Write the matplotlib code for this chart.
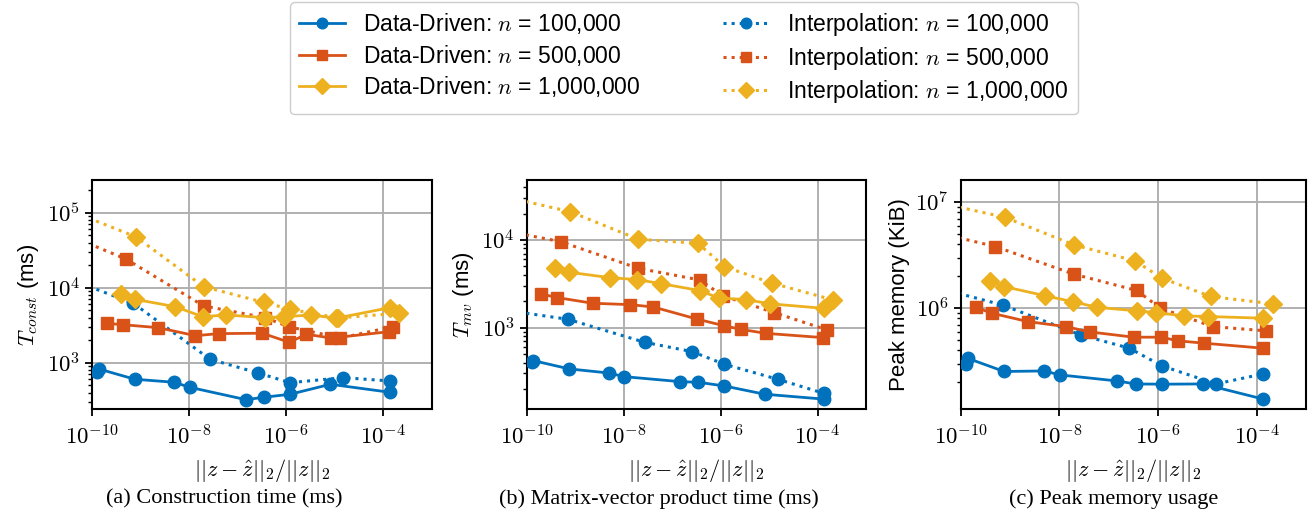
import numpy as np
import matplotlib
matplotlib.use('Agg')
import matplotlib.pyplot as plt
from matplotlib.ticker import FuncFormatter, FixedLocator, NullLocator, NullFormatter, LogLocator

plt.rcParams['font.family'] = ['Liberation Sans', 'DejaVu Sans']
plt.rcParams['mathtext.fontset'] = 'cm'
plt.rcParams['font.size'] = 15

# relative error ||z - zhat|| / ||z|| (x values)
x_dd_100k = [1.26e-10, 1.38e-10, 7.6e-10, 4.9e-9, 1.02e-8, 1.48e-7, 3.5e-7, 1.2e-6, 8.1e-6, 1.35e-4]
x_dd_500k = [2.0e-10, 4.3e-10, 2.3e-9, 1.35e-8, 4.1e-8, 3.2e-7, 1.15e-6, 2.6e-6, 8.5e-6, 1.32e-4]
x_dd_1m = [3.9e-10, 7.6e-10, 5.2e-9, 1.9e-8, 5.8e-8, 3.7e-7, 9.1e-7, 3.3e-6, 1.05e-5, 1.35e-4]
x_in_100k = [1e-11, 7.1e-10, 2.7e-8, 2.6e-7, 1.2e-6, 1.5e-5, 1.35e-4]
x_in_500k = [1e-11, 5.0e-10, 2.0e-8, 3.7e-7, 1.12e-6, 1.29e-5, 1.58e-4]
x_in_1m = [1e-11, 7.9e-10, 2.0e-8, 3.4e-7, 1.2e-6, 1.17e-5, 2.1e-4]

# (a) construction time (ms)
a_dd_100k = [745, 824, 601, 548, 470, 321, 346, 379, 515, 403]
a_dd_500k = [3350, 3210, 2930, 2290, 2440, 2470, 1870, 2390, 2130, 2590]
a_dd_1m = [8170, 7000, 5580, 4100, 4330, 3980, 4100, 4330, 3910, 5410]
a_in_100k = [1.76e4, 6190, 1110, 730, 541, 631, 570]
a_in_500k = [6.87e4, 2.41e4, 5700, 3980, 3020, 2130, 3020]
a_in_1m = [1.47e5, 4.79e4, 1.03e4, 6390, 5150, 3950, 4560]

# (b) matrix-vector product time (ms)
b_dd_100k = [409, 420, 338, 304, 276, 242, 238, 216, 174, 153]
b_dd_500k = [2420, 2200, 1897, 1830, 1720, 1256, 1054, 957, 861, 769]
b_dd_1m = [4750, 4280, 3715, 3530, 3180, 2650, 2180, 2090, 1870, 1660]
b_in_100k = [1750, 1245, 681, 532, 382, 258, 178]
b_in_500k = [1.46e4, 9570, 4750, 3500, 2300, 1483, 940]
b_in_1m = [3.66e4, 2.1e4, 1.02e4, 9160, 4970, 3210, 2070]

# (c) peak memory (KiB)
c_dd_100k = [2.97e5, 3.37e5, 2.53e5, 2.56e5, 2.35e5, 2.06e5, 1.93e5, 1.92e5, 1.93e5, 1.39e5]
c_dd_500k = [1.02e6, 8.97e5, 7.48e5, 6.71e5, 5.98e5, 5.33e5, 5.33e5, 4.92e5, 4.68e5, 4.2e5]
c_dd_1m = [1.79e6, 1.6e6, 1.31e6, 1.15e6, 1.02e6, 9.44e5, 9.1e5, 8.47e5, 8.35e5, 8.05e5]
c_in_100k = [1.81e6, 1.07e6, 5.6e5, 4.2e5, 2.86e5, 1.93e5, 2.4e5]
c_in_500k = [5.91e6, 3.82e6, 2.09e6, 1.47e6, 1.0e6, 6.71e5, 6.11e5]
c_in_1m = [1.13e7, 7.2e6, 3.95e6, 2.8e6, 1.92e6, 1.29e6, 1.1e6]

sizes = ['100,000', '500,000', '1,000,000']
colors = ['#0072BD', '#D95319', '#EDB120']
markers = ['o', 's', 'D']

panels = [
    ('a', [a_dd_100k, a_dd_500k, a_dd_1m], [a_in_100k, a_in_500k, a_in_1m],
     r'$T_{const}$ (ms)', (241, 2.73e5), '(a) Construction time (ms)'),
    ('b', [b_dd_100k, b_dd_500k, b_dd_1m], [b_in_100k, b_in_500k, b_in_1m],
     r'$T_{mv}$ (ms)', (118, 4.83e4), '(b) Matrix-vector product time (ms)'),
    ('c', [c_dd_100k, c_dd_500k, c_dd_1m], [c_in_100k, c_in_500k, c_in_1m],
     'Peak memory (KiB)', (1.12e5, 1.62e7), '(c) Peak memory usage'),
]
x_dd = [x_dd_100k, x_dd_500k, x_dd_1m]
x_in = [x_in_100k, x_in_500k, x_in_1m]

W, H = 1315, 521
fig = plt.figure(figsize=(W / 100, H / 100), dpi=100)
lefts = [92, 526.7, 960.7]
widths = [340, 339.3, 345.3]
caption_x = [224, 659, 1114]

def pow_fmt(v, pos):
    return r'$10^{%d}$' % int(round(np.log10(v)))

handles_dd, handles_in = [], []
for k, (name, dd, inn, ylab, ylim, cap) in enumerate(panels):
    ax = fig.add_axes([lefts[k] / W, 1 - 409 / H, widths[k] / W, 229 / H])
    ax.set_xscale('log')
    ax.set_yscale('log')
    for i in range(3):
        l1, = ax.plot(x_dd[i], dd[i], color=colors[i], marker=markers[i], ms=9,
                      lw=2.0, ls='-', zorder=3)
        l2, = ax.plot(x_in[i], inn[i], color=colors[i], marker=markers[i], ms=9,
                      lw=2.2, ls=':', zorder=3)
        if k == 0:
            handles_dd.append(l1)
            handles_in.append(l2)
    ax.set_xlim(1e-10, 1e-3)
    ax.set_ylim(*ylim)
    ax.xaxis.set_major_locator(FixedLocator([1e-10, 1e-8, 1e-6, 1e-4]))
    ax.xaxis.set_minor_locator(NullLocator())
    ax.xaxis.set_major_formatter(FuncFormatter(pow_fmt))
    ax.yaxis.set_major_locator(LogLocator(base=10, numticks=10))
    ax.yaxis.set_minor_locator(LogLocator(base=10, subs=np.arange(2, 10), numticks=10))
    ax.yaxis.set_major_formatter(FuncFormatter(pow_fmt))
    ax.yaxis.set_minor_formatter(NullFormatter())
    ax.grid(True, which='major', color='#b0b0b0', lw=1.4)
    ax.set_axisbelow(True)
    for s in ax.spines.values():
        s.set_linewidth(1.5)
    ax.tick_params(axis='x', which='major', pad=7)
    ax.tick_params(which='major', length=5, width=1.3, labelsize=16.5)
    ax.tick_params(which='minor', length=3, width=1.0)
    ax.set_xlabel(r'$||z-\hat{z}||_2/||z||_2$', fontsize=16, labelpad=5)
    ax.set_ylabel(ylab, fontsize=16, labelpad=4)
    fig.text(caption_x[k] / W, 1 - 499 / H, cap, ha='center', va='center',
             fontsize=16, family='Liberation Serif')

labels = ['Data-Driven: $n$ = ' + s for s in sizes] + ['Interpolation: $n$ = ' + s for s in sizes]
fig.legend(handles_dd + handles_in, labels, ncol=2, loc='upper center',
           bbox_to_anchor=(684 / W, 1 - 2 / H), fontsize=16.5, handlelength=2.0,
           columnspacing=3.6, markerscale=0.85, framealpha=1, edgecolor='#cccccc',
           labelspacing=0.28, borderpad=0.4, borderaxespad=0.0)

fig.savefig('out.png', dpi=100)
